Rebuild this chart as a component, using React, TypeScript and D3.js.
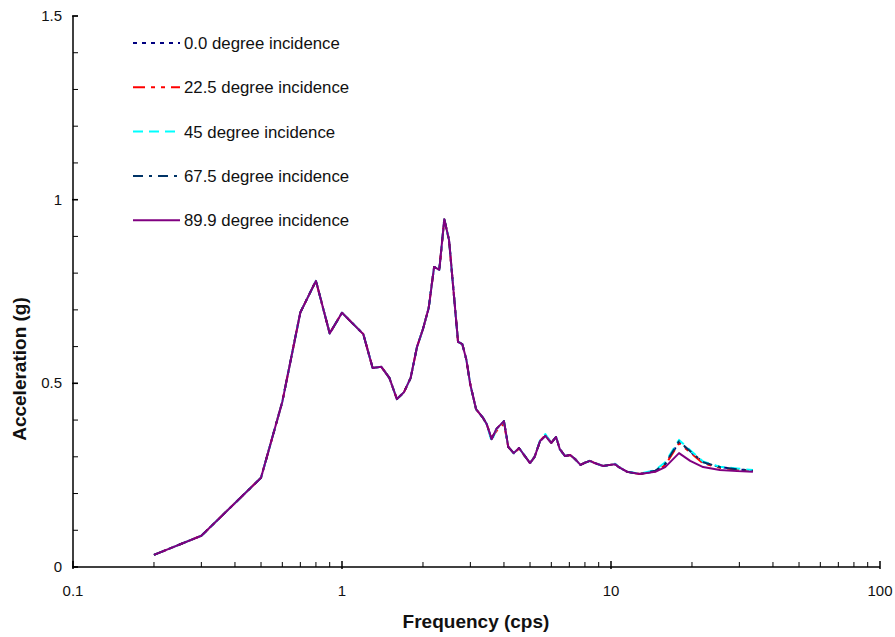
import React from "react";
import * as d3 from "d3";

const lowFreq = [0.2, 0.3, 0.5, 0.6, 0.7, 0.8, 0.9, 1.0, 1.2, 1.3, 1.4, 1.5, 1.6, 1.7, 1.8, 1.9, 2.0, 2.1, 2.2, 2.3, 2.4, 2.5, 2.7, 2.8, 2.9, 3.0];
const lowAccel = [0.033, 0.085, 0.243, 0.45, 0.693, 0.779, 0.636, 0.692, 0.634, 0.542, 0.545, 0.515, 0.457, 0.476, 0.515, 0.599, 0.648, 0.705, 0.817, 0.809, 0.947, 0.89, 0.613, 0.607, 0.564, 0.496];

const hiFreq = [3.15, 3.35, 3.45, 3.6, 3.75, 4.0, 4.15, 4.35, 4.55, 5.0, 5.2, 5.45, 5.7, 6.0, 6.25, 6.45, 6.75, 7.05, 7.35, 7.7, 7.95, 8.35, 8.7, 9.35, 9.9, 10.35, 10.7, 11.5, 12.8, 14.6, 15.9, 17.9, 19.7, 22, 25.4, 29.4, 33.7];

const hiAccel0 = [0.43, 0.405, 0.389, 0.348, 0.376, 0.397, 0.327, 0.31, 0.324, 0.283, 0.3, 0.343, 0.357, 0.338, 0.354, 0.321, 0.302, 0.305, 0.294, 0.278, 0.283, 0.289, 0.283, 0.275, 0.278, 0.28, 0.272, 0.259, 0.253, 0.261, 0.279, 0.34, 0.314, 0.285, 0.272, 0.266, 0.262];
const hiAccel225 = [0.43, 0.405, 0.389, 0.352, 0.37, 0.39, 0.327, 0.31, 0.322, 0.283, 0.3, 0.343, 0.36, 0.338, 0.354, 0.321, 0.302, 0.305, 0.294, 0.278, 0.283, 0.289, 0.283, 0.275, 0.278, 0.28, 0.272, 0.259, 0.253, 0.26, 0.277, 0.337, 0.312, 0.282, 0.27, 0.265, 0.262];
const hiAccel45 = [0.43, 0.405, 0.389, 0.342, 0.376, 0.397, 0.327, 0.31, 0.324, 0.283, 0.3, 0.345, 0.362, 0.338, 0.354, 0.321, 0.302, 0.305, 0.294, 0.278, 0.283, 0.289, 0.283, 0.275, 0.278, 0.281, 0.272, 0.259, 0.254, 0.264, 0.285, 0.346, 0.318, 0.287, 0.273, 0.268, 0.264];
const hiAccel675 = [0.43, 0.405, 0.389, 0.348, 0.376, 0.397, 0.327, 0.31, 0.324, 0.283, 0.3, 0.343, 0.357, 0.338, 0.354, 0.321, 0.302, 0.305, 0.294, 0.278, 0.283, 0.289, 0.283, 0.275, 0.278, 0.28, 0.272, 0.259, 0.253, 0.262, 0.281, 0.342, 0.315, 0.285, 0.272, 0.266, 0.262];
const hiAccel899 = [0.43, 0.405, 0.389, 0.348, 0.376, 0.397, 0.327, 0.31, 0.324, 0.283, 0.3, 0.343, 0.357, 0.338, 0.354, 0.321, 0.302, 0.305, 0.294, 0.278, 0.283, 0.289, 0.283, 0.275, 0.278, 0.28, 0.272, 0.259, 0.253, 0.259, 0.272, 0.31, 0.289, 0.272, 0.264, 0.261, 0.259];

const seriesNames = ["0.0 degree incidence", "22.5 degree incidence", "45 degree incidence", "67.5 degree incidence", "89.9 degree incidence"];
const seriesHi = [hiAccel0, hiAccel225, hiAccel45, hiAccel675, hiAccel899];
const seriesColors = ["#000080", "#ff0000", "#00ffff", "#003366", "#800080"];
const seriesDash = ["4,5", "12,6,4,6,4,6", "10,6", "10,6,3,6", ""];

const xTickValues = [0.1, 1, 10, 100];
const xTickLabels = ["0.1", "1", "10", "100"];
const yTickValues = [0, 0.5, 1, 1.5];
const yTickLabels = ["0", "0.5", "1", "1.5"];

const FONT = "'Liberation Sans', Arial, sans-serif";

export default function App() {
  const x = d3.scaleLog().domain([0.1, 100]).range([73, 880]);
  const y = d3.scaleLinear().domain([0, 1.5]).range([567, 16]);
  const freqs = [...lowFreq, ...hiFreq];
  const line = d3
    .line<[number, number]>()
    .x((d) => x(d[0]))
    .y((d) => y(d[1]));

  const minorX: number[] = [];
  for (let e = -1; e < 2; e++) {
    for (let m = 2; m <= 9; m++) minorX.push(m * Math.pow(10, e));
  }
  const minorY = d3.range(0, 16).map((i) => i / 10);

  return (
    <svg
      width={895}
      height={637}
      style={{ position: "absolute", left: 0, top: 0, background: "#fff" }}
      fontFamily={FONT}
    >
      {/* axes */}
      <line x1={x(0.1)} x2={x(100)} y1={y(0)} y2={y(0)} stroke="#000" strokeWidth={1.5} />
      <line x1={x(0.1)} x2={x(0.1)} y1={y(0)} y2={y(1.5)} stroke="#000" strokeWidth={1.5} />
      {minorX.map((v, i) => (
        <line key={"mx" + i} x1={x(v)} x2={x(v)} y1={y(0)} y2={y(0) - 5} stroke="#000" strokeWidth={1} />
      ))}
      {xTickValues.map((v, i) => (
        <line key={"Mx" + i} x1={x(v)} x2={x(v)} y1={y(0) + 2} y2={y(0) - 6} stroke="#000" strokeWidth={1.5} />
      ))}
      {minorY.map((v, i) => (
        <line key={"my" + i} x1={x(0.1)} x2={x(0.1) + 5} y1={y(v)} y2={y(v)} stroke="#000" strokeWidth={1} />
      ))}
      {yTickValues.map((v, i) => (
        <line key={"My" + i} x1={x(0.1) - 1} x2={x(0.1) + 5} y1={y(v)} y2={y(v)} stroke="#000" strokeWidth={1.5} />
      ))}
      {xTickValues.map((v, i) => (
        <text key={"xl" + i} x={x(v)} y={596} textAnchor="middle" fontSize={15} fill="#111">
          {xTickLabels[i]}
        </text>
      ))}
      {yTickValues.map((v, i) => (
        <text key={"yl" + i} x={62} y={y(v) + 5} textAnchor="end" fontSize={15} fill="#111">
          {yTickLabels[i]}
        </text>
      ))}
      <text x={476} y={628} textAnchor="middle" fontSize={19} fontWeight="bold" fill="#111">
        Frequency (cps)
      </text>
      <text
        transform={`translate(26,369) rotate(-90)`}
        textAnchor="middle"
        fontSize={19}
        fontWeight="bold"
        fill="#111"
      >
        Acceleration (g)
      </text>

      {/* series */}
      {seriesHi.map((hi, si) => {
        const vals = [...lowAccel, ...hi];
        const pts: [number, number][] = freqs.map((f, i) => [f, vals[i]]);
        return (
          <path
            key={"s" + si}
            d={line(pts) || ""}
            fill="none"
            stroke={seriesColors[si]}
            strokeWidth={2}
            strokeDasharray={seriesDash[si] || undefined}
            strokeLinejoin="round"
          />
        );
      })}

      {/* legend */}
      {seriesNames.map((name, i) => {
        const cy = 43 + i * 44.3;
        return (
          <g key={"lg" + i}>
            <line
              x1={133}
              x2={180}
              y1={cy}
              y2={cy}
              stroke={seriesColors[i]}
              strokeWidth={2}
              strokeDasharray={seriesDash[i] || undefined}
            />
            <text x={184} y={cy + 6} fontSize={16.8} fill="#111">
              {name}
            </text>
          </g>
        );
      })}
    </svg>
  );
}
